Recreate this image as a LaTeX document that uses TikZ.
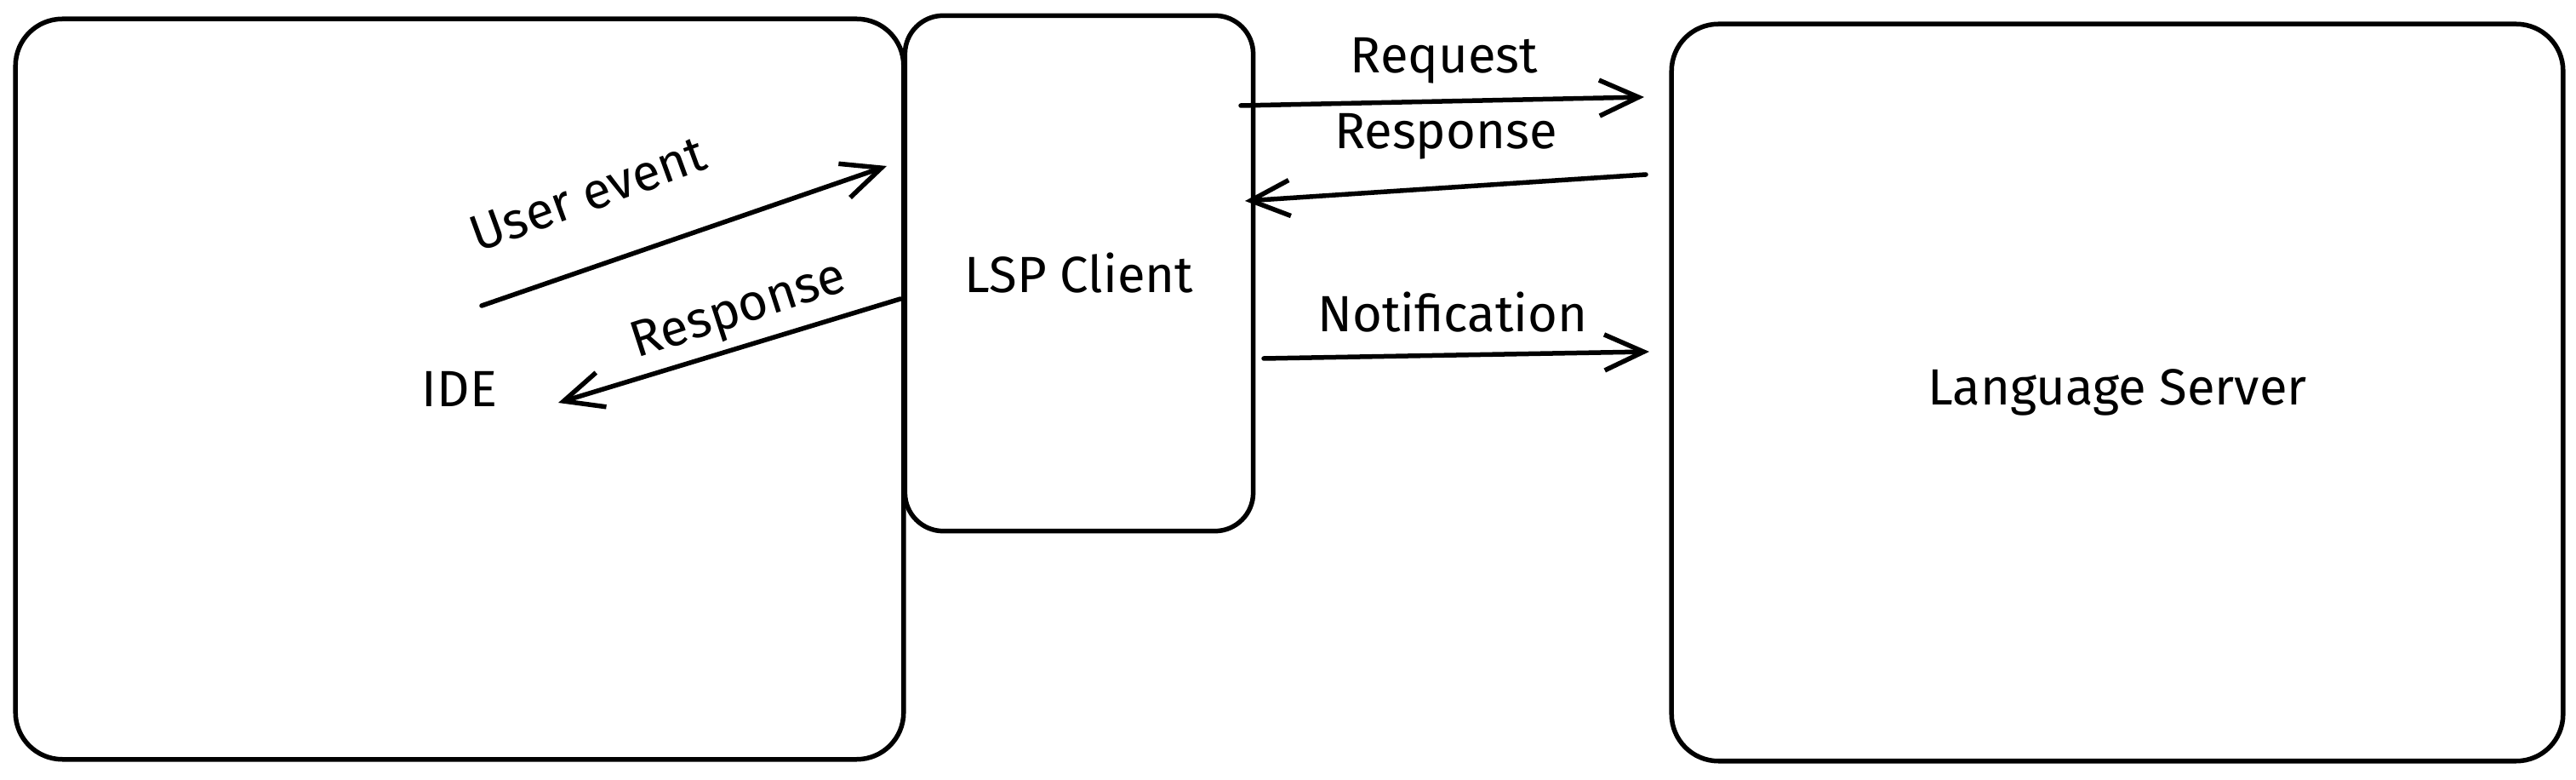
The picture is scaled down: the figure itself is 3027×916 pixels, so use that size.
\documentclass[tikz,border=0pt]{standalone}
\usepackage{fontspec}
\setmainfont{Fira Sans}
\usetikzlibrary{arrows.meta}

\begin{document}
\begin{tikzpicture}[
   x = 0.01cm, y = -0.01cm,
   every node/.style = {text=black, font=\fontsize{17}{20}\selectfont},
   box/.style = {draw, line width=0.55mm, inner sep=0pt},
   msg/.style = {line width=0.55mm, line cap=round,
      -{Straight Barb[length=4.6mm, width=4.2mm, line width=0.55mm]}},
]
   \useasboundingbox (0,0) rectangle (3027,916);
   % boxes
   \node [box, rounded corners=5.5mm, minimum width=10.43cm, minimum height=8.69cm]
      (ide) at (540,457) {IDE};
   \node [box, rounded corners=4.5mm, minimum width=4.09cm, minimum height=6.05cm]
      (client) at (1268,321) {LSP Client};
   \node [box, rounded corners=5.5mm, minimum width=10.47cm, minimum height=8.65cm]
      (server) at (2488,461) {Language Server};
   % end points
   \coordinate (ue-a) at (566,359);
   \coordinate (ue-b) at (1042,195);
   \coordinate (rl-a) at (1058,351);
   \coordinate (rl-b) at (656,473);
   \coordinate (rq-a) at (1458,124);
   \coordinate (rq-b) at (1932,114);
   \coordinate (rr-a) at (1934,205);
   \coordinate (rr-b) at (1463,236);
   \coordinate (nt-a) at (1485,421);
   \coordinate (nt-b) at (1938,413);
   % IDE <-> client
   \draw [msg] (ue-a) -- (ue-b);
   \node [rotate=20] (lbl-ue) at (691,228) {User event};
   \draw [msg] (rl-a) -- (rl-b);
   \node [rotate=18] (lbl-rl) at (869,367) {Response};
   % client <-> server
   \draw [msg] (rq-a) -- (rq-b);
   \node (lbl-rq) at (1697,71) {Request};
   \draw [msg] (rr-a) -- (rr-b);
   \node (lbl-rr) at (1699,160) {Response};
   \draw [msg] (nt-a) -- (nt-b);
   \node (lbl-nt) at (1707,367) {Notification};
\end{tikzpicture}
\end{document}
